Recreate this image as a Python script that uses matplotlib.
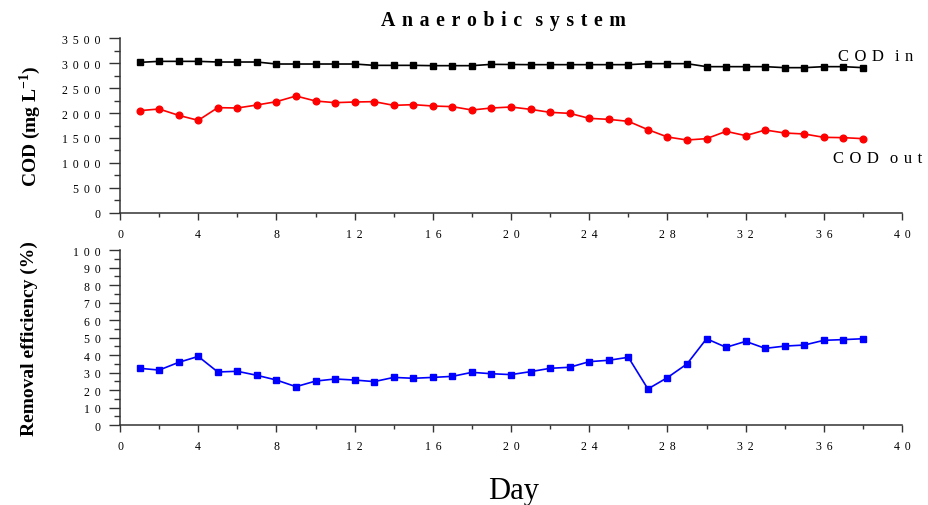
import matplotlib
matplotlib.use("Agg")
from matplotlib import pyplot as plt
from matplotlib.ticker import MultipleLocator, FuncFormatter

plt.rcParams['font.family'] = ['Liberation Serif', 'DejaVu Serif']
plt.rcParams['mathtext.fontset'] = 'custom'
plt.rcParams['mathtext.rm'] = 'Liberation Serif'
plt.rcParams['mathtext.bf'] = 'Liberation Serif:bold'

days = list(range(1, 39))

cod_in = [3013, 3033, 3033, 3033, 3020, 3020, 3020, 2980, 2980, 2980,
          2980, 2980, 2953, 2953, 2953, 2947, 2947, 2947, 2973, 2970,
          2967, 2967, 2967, 2967, 2967, 2967, 2987, 2987, 2987, 2927,
          2927, 2927, 2927, 2907, 2907, 2927, 2927, 2907]

cod_out = [2047, 2080, 1953, 1853, 2107, 2100, 2160, 2227, 2340, 2240,
           2207, 2220, 2227, 2153, 2167, 2140, 2127, 2060, 2100, 2120,
           2073, 2013, 1993, 1893, 1873, 1833, 1667, 1520, 1460, 1487,
           1633, 1547, 1660, 1600, 1580, 1513, 1507, 1487]

removal = [32.4, 31.4, 35.8, 39.2, 30.3, 30.7, 28.4, 25.7, 21.9, 25.1,
           26.3, 25.7, 24.8, 27.2, 26.7, 27.2, 27.8, 30.1, 29.3, 28.8,
           30.5, 32.4, 33.0, 36.2, 37.0, 38.7, 20.6, 27.1, 34.9, 49.3,
           44.4, 47.8, 43.8, 45.1, 45.7, 48.4, 48.8, 49.3]

SP = "\u2004"  # three-per-em space, used for the wide letter spacing


def spaced(v, pos):
    # the original tick labels have wide letter spacing
    return (SP + "\u200a").join(str(int(round(v))))


def track(s):
    return (SP * 2).join(SP.join(w) for w in s.split())


fig = plt.figure(figsize=(9.29, 5.06), dpi=100)
ax1 = fig.add_axes([0.1292, 0.5771, 0.8418, 0.3458])
ax2 = fig.add_axes([0.1292, 0.1581, 0.8418, 0.3458])

ax1.plot(days, cod_in, color='black', marker='s', markersize=4.5, lw=1.2)
ax1.plot(days, cod_out, color='red', marker='o', markersize=4.8, lw=1.2)
ax2.plot(days, removal, color='blue', marker='s', markersize=4.5, lw=1.2)

ax1.set_ylim(0, 3500)
ax1.yaxis.set_major_locator(MultipleLocator(500))
ax1.yaxis.set_minor_locator(MultipleLocator(250))
ax2.set_ylim(0, 100)
ax2.yaxis.set_major_locator(MultipleLocator(10))
ax2.yaxis.set_minor_locator(MultipleLocator(5))

for ax in (ax1, ax2):
    ax.set_xlim(0, 40)
    ax.xaxis.set_major_locator(MultipleLocator(4))
    ax.xaxis.set_minor_locator(MultipleLocator(2))
    ax.xaxis.set_major_formatter(FuncFormatter(spaced))
    ax.yaxis.set_major_formatter(FuncFormatter(spaced))
    ax.spines['top'].set_visible(False)
    ax.spines['right'].set_visible(False)
    for side in ('left', 'bottom'):
        ax.spines[side].set_linewidth(1.1)
        ax.spines[side].set_color('#333333')
    ax.tick_params(axis='y', which='major', direction='out', length=8,
                   width=1.0, labelsize=8.5, colors='#333333',
                   labelcolor='black', pad=6)
    ax.tick_params(axis='y', which='minor', direction='out', length=4.3,
                   width=1.0, colors='#333333')
    ax.tick_params(axis='x', which='major', direction='out', length=5,
                   width=1.0, labelsize=8.5, colors='#333333',
                   labelcolor='black', pad=6)
    ax.tick_params(axis='x', which='minor', direction='out', length=3,
                   width=1.0, colors='#333333')

ax1.set_ylabel(r'COD (mg L$^{\mathbf{-1}}$)', fontsize=14, fontweight='bold')
ax2.set_ylabel('Removal efficiency (%)', fontsize=14, fontweight='bold')
ax1.yaxis.set_label_coords(-0.098, 0.5)
ax2.yaxis.set_label_coords(-0.105, 0.5)

ax1.text(36.7, 3070, track("COD in"), fontsize=12, ha='left',
         va='baseline')
ax1.text(36.45, 1020, track("COD out"), fontsize=12, ha='left',
         va='baseline')

fig.text(0.542, 0.958, track("Anaerobic system"), fontsize=14.3,
         fontweight='bold', ha='center', va='center')
fig.text(0.553, 0.014, "Day", fontsize=22, ha='center', va='baseline')

fig.savefig("out.png", dpi=100)
